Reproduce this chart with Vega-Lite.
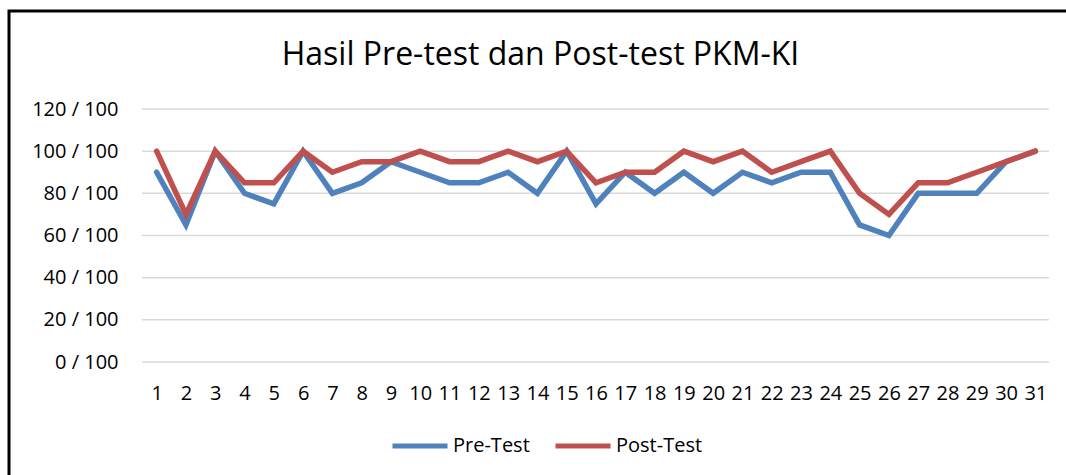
{
  "$schema": "https://vega.github.io/schema/vega-lite/v6.json",
  "width": 1063,
  "height": 468,
  "autosize": {"type": "none"},
  "padding": {"left": 9, "top": 11, "right": -6, "bottom": -4},
  "background": "white",
  "view": {"stroke": "black", "strokeWidth": 3},
  "config": {
    "font": "Open Sans"
  },
  "title": {
    "text": "Hasil Pre-test dan Post-test PKM-KI",
    "fontSize": 32,
    "fontWeight": "normal",
    "font": "Open Sans",
    "color": "black",
    "anchor": "middle",
    "baseline": "middle",
    "offset": -76
  },
  "resolve": {"scale": {"x": "independent"}},
  "layer": [
    {
      "data": {"values": [{"g": 0}, {"g": 20}, {"g": 40}, {"g": 60}, {"g": 80}, {"g": 100}, {"g": 120}]},
      "mark": {"type": "rule", "color": "#D9D9D9", "strokeWidth": 1.5},
      "encoding": {
        "y": {
          "field": "g", "type": "quantitative",
          "scale": {"domain": [0, 120], "range": [351, 98]},
          "axis": {"title": null, "values": [0, 20, 40, 60, 80, 100, 120], "labelExpr": "datum.value + ' / 100'", "domain": false, "ticks": false, "tickSize": 0, "labelPadding": 0, "offset": -109, "labelFontSize": 20, "labelColor": "black", "labelFont": "Open Sans", "grid": false}
        },
        "x": {"datum": 0, "type": "quantitative", "scale": {"domain": [0, 1], "range": [133, 1040]}, "axis": null},
        "x2": {"datum": 1}
      }
    },
    {
      "data": {"values": [
        {"n": "1", "s": "Pre-Test", "v": 90}, {"n": "2", "s": "Pre-Test", "v": 65}, {"n": "3", "s": "Pre-Test", "v": 100},
        {"n": "4", "s": "Pre-Test", "v": 80}, {"n": "5", "s": "Pre-Test", "v": 75}, {"n": "6", "s": "Pre-Test", "v": 100},
        {"n": "7", "s": "Pre-Test", "v": 80}, {"n": "8", "s": "Pre-Test", "v": 85}, {"n": "9", "s": "Pre-Test", "v": 95},
        {"n": "10", "s": "Pre-Test", "v": 90}, {"n": "11", "s": "Pre-Test", "v": 85}, {"n": "12", "s": "Pre-Test", "v": 85},
        {"n": "13", "s": "Pre-Test", "v": 90}, {"n": "14", "s": "Pre-Test", "v": 80}, {"n": "15", "s": "Pre-Test", "v": 100},
        {"n": "16", "s": "Pre-Test", "v": 75}, {"n": "17", "s": "Pre-Test", "v": 90}, {"n": "18", "s": "Pre-Test", "v": 80},
        {"n": "19", "s": "Pre-Test", "v": 90}, {"n": "20", "s": "Pre-Test", "v": 80}, {"n": "21", "s": "Pre-Test", "v": 90},
        {"n": "22", "s": "Pre-Test", "v": 85}, {"n": "23", "s": "Pre-Test", "v": 90}, {"n": "24", "s": "Pre-Test", "v": 90},
        {"n": "25", "s": "Pre-Test", "v": 65}, {"n": "26", "s": "Pre-Test", "v": 60}, {"n": "27", "s": "Pre-Test", "v": 80},
        {"n": "28", "s": "Pre-Test", "v": 80}, {"n": "29", "s": "Pre-Test", "v": 80}, {"n": "30", "s": "Pre-Test", "v": 95},
        {"n": "31", "s": "Pre-Test", "v": 100},
        {"n": "1", "s": "Post-Test", "v": 100}, {"n": "2", "s": "Post-Test", "v": 70}, {"n": "3", "s": "Post-Test", "v": 100},
        {"n": "4", "s": "Post-Test", "v": 85}, {"n": "5", "s": "Post-Test", "v": 85}, {"n": "6", "s": "Post-Test", "v": 100},
        {"n": "7", "s": "Post-Test", "v": 90}, {"n": "8", "s": "Post-Test", "v": 95}, {"n": "9", "s": "Post-Test", "v": 95},
        {"n": "10", "s": "Post-Test", "v": 100}, {"n": "11", "s": "Post-Test", "v": 95}, {"n": "12", "s": "Post-Test", "v": 95},
        {"n": "13", "s": "Post-Test", "v": 100}, {"n": "14", "s": "Post-Test", "v": 95}, {"n": "15", "s": "Post-Test", "v": 100},
        {"n": "16", "s": "Post-Test", "v": 85}, {"n": "17", "s": "Post-Test", "v": 90}, {"n": "18", "s": "Post-Test", "v": 90},
        {"n": "19", "s": "Post-Test", "v": 100}, {"n": "20", "s": "Post-Test", "v": 95}, {"n": "21", "s": "Post-Test", "v": 100},
        {"n": "22", "s": "Post-Test", "v": 90}, {"n": "23", "s": "Post-Test", "v": 95}, {"n": "24", "s": "Post-Test", "v": 100},
        {"n": "25", "s": "Post-Test", "v": 80}, {"n": "26", "s": "Post-Test", "v": 70}, {"n": "27", "s": "Post-Test", "v": 85},
        {"n": "28", "s": "Post-Test", "v": 85}, {"n": "29", "s": "Post-Test", "v": 90}, {"n": "30", "s": "Post-Test", "v": 95},
        {"n": "31", "s": "Post-Test", "v": 100}
      ]},
      "mark": {"type": "line", "strokeWidth": 5.5, "strokeCap": "round", "strokeJoin": "miter"},
      "encoding": {
        "x": {
          "field": "n", "type": "ordinal", "sort": null,
          "scale": {"type": "point", "range": [133, 1041], "padding": 0.5},
          "axis": {"title": null, "domain": false, "ticks": false, "tickSize": 0, "labelPadding": 0, "offset": -96, "labelAngle": 0, "labelFontSize": 20, "labelColor": "black", "labelFont": "Open Sans", "grid": false}
        },
        "y": {
          "field": "v", "type": "quantitative",
          "scale": {"domain": [0, 120], "range": [351, 98]}
        },
        "color": {
          "field": "s", "type": "nominal",
          "scale": {"domain": ["Pre-Test", "Post-Test"], "range": ["#4F81BD", "#C0504D"]},
          "legend": {"title": null, "orient": "none", "direction": "horizontal", "legendX": 381, "legendY": 405, "symbolType": "stroke", "symbolSize": 3025, "symbolStrokeWidth": 5, "labelFontSize": 20, "labelColor": "black", "labelFont": "Open Sans", "labelOffset": 3, "columnPadding": 15, "padding": 0}
        }
      }
    }
  ]
}
